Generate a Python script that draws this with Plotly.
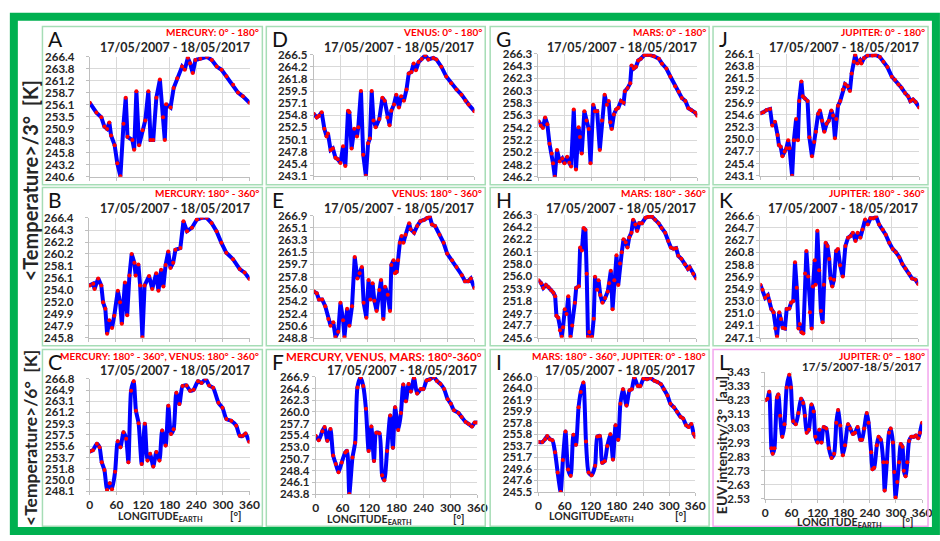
import plotly.graph_objects as go

W, H = 940, 541
FONT = "Lato"
DARK = "#262626"

# ---------------- data: zonal mean temperature vs. Earth longitude ----------------
lon_A = [0, 15, 26, 33, 39, 44, 48, 56, 62, 69, 76, 81, 85, 96, 100, 105, 111, 119, 125, 132, 137, 143, 150, 158, 165, 169, 172, 182, 189, 197, 208, 214, 221, 226, 232, 238, 249, 264, 275, 286, 297, 308, 323, 334, 345, 360]
temp_A = [256.5, 254.4, 253.4, 251.4, 250.9, 252.3, 249.5, 247.4, 243.5, 240.7, 252.0, 257.6, 249.2, 248.5, 246.4, 259.0, 247.4, 250.6, 252.7, 259.0, 248.5, 248.5, 257.6, 261.5, 253.4, 248.5, 256.2, 255.5, 259.7, 261.8, 264.3, 263.6, 266.2, 265.0, 262.9, 265.7, 266.0, 266.4, 265.7, 264.3, 263.6, 262.2, 260.4, 258.7, 257.9, 256.5]
ticks_A = ["266.4", "263.8", "261.2", "258.7", "256.1", "253.5", "250.9", "248.3", "245.8", "243.2", "240.6"]

lon_B = [2, 10, 13, 21, 28, 32, 37, 41, 46, 52, 57, 65, 70, 74, 81, 86, 91, 96, 102, 105, 111, 115, 120, 125, 135, 142, 151, 156, 162, 167, 172, 178, 183, 189, 194, 205, 212, 220, 231, 242, 253, 264, 275, 286, 297, 308, 323, 338, 349, 360]
temp_B = [254.8, 255.1, 254.2, 256.0, 254.8, 251.9, 250.8, 246.5, 248.8, 247.5, 249.6, 253.9, 251.9, 248.2, 255.3, 249.7, 256.5, 260.2, 258.7, 256.5, 258.4, 254.8, 245.9, 254.8, 256.4, 254.2, 256.9, 253.9, 257.5, 254.6, 258.3, 260.6, 257.8, 258.7, 260.9, 261.2, 265.8, 264.1, 264.7, 266.1, 266.4, 266.4, 265.5, 264.1, 262.1, 260.4, 259.3, 257.6, 257.0, 255.9]
ticks_B = ["266.4", "264.3", "262.2", "260.2", "258.1", "256.1", "254.0", "252.0", "249.9", "247.9", "245.8"]

lon_C = [0, 7, 16, 22, 27, 33, 39, 45, 50, 57, 63, 69, 76, 82, 87, 93, 99, 104, 110, 117, 124, 130, 136, 143, 150, 157, 163, 171, 177, 183, 189, 195, 202, 209, 218, 226, 234, 244, 252, 261, 269, 278, 290, 299, 308, 319, 330, 338, 345, 351, 359]
temp_C = [254.7, 254.9, 256.0, 255.4, 252.9, 251.6, 248.3, 249.4, 248.4, 251.3, 256.4, 255.4, 257.9, 256.8, 252.9, 264.8, 266.4, 261.5, 259.4, 252.6, 259.3, 253.2, 254.3, 252.2, 254.6, 253.2, 258.2, 255.7, 262.3, 257.6, 258.4, 264.5, 262.6, 265.6, 265.7, 264.8, 265.0, 266.4, 266.1, 266.8, 265.7, 265.3, 262.8, 262.0, 260.1, 259.8, 259.0, 257.3, 257.3, 257.7, 256.3]
ticks_C = ["266.8", "264.9", "263.1", "261.2", "259.3", "257.5", "255.6", "253.7", "251.8", "250.0", "248.1"]

lon_D = [0, 7, 12, 18, 24, 29, 32, 38, 43, 49, 54, 60, 66, 71, 77, 80, 85, 91, 97, 100, 106, 111, 117, 122, 126, 130, 134, 139, 147, 154, 159, 165, 170, 174, 180, 185, 191, 196, 202, 208, 213, 219, 224, 229, 235, 242, 250, 257, 268, 275, 286, 297, 308, 320, 331, 340, 347, 360]
temp_D = [255.1, 254.4, 254.7, 255.4, 252.2, 250.7, 251.3, 248.1, 248.4, 246.6, 246.3, 245.6, 248.8, 245.0, 255.7, 255.4, 248.4, 252.2, 250.7, 252.5, 259.5, 247.2, 243.1, 249.4, 250.3, 259.5, 253.8, 252.5, 254.1, 258.2, 257.6, 254.4, 252.9, 255.7, 256.9, 258.8, 256.3, 258.5, 257.6, 259.8, 262.9, 263.2, 264.8, 263.5, 265.1, 265.7, 266.4, 265.6, 265.9, 265.6, 264.2, 262.3, 261.0, 259.8, 258.8, 257.6, 256.9, 255.6]
ticks_D = ["266.5", "264.2", "261.8", "259.5", "257.1", "254.8", "252.5", "250.1", "247.8", "245.4", "243.1"]

lon_E = [0, 7, 12, 19, 26, 33, 38, 44, 49, 55, 60, 66, 69, 75, 80, 86, 92, 98, 103, 108, 112, 118, 123, 127, 132, 136, 141, 147, 151, 156, 160, 166, 171, 174, 179, 182, 186, 189, 193, 197, 201, 206, 214, 217, 225, 232, 239, 247, 254, 260, 265, 272, 282, 291, 299, 310, 320, 332, 339, 346, 352, 360]
temp_E = [255.7, 255.4, 254.5, 254.5, 253.5, 251.6, 250.6, 251.1, 248.9, 249.7, 254.0, 251.4, 248.9, 253.1, 250.6, 253.5, 260.8, 257.6, 258.4, 259.3, 254.0, 251.8, 257.4, 254.5, 256.9, 254.3, 252.8, 255.9, 257.4, 251.6, 256.4, 255.2, 252.8, 259.6, 260.3, 258.4, 258.6, 260.3, 262.9, 263.9, 262.9, 264.1, 265.8, 264.9, 264.4, 265.4, 266.1, 266.3, 266.6, 266.8, 265.6, 265.4, 264.1, 262.9, 261.3, 260.3, 259.3, 258.1, 257.2, 257.2, 257.6, 256.2]
ticks_E = ["266.9", "265.1", "263.3", "261.5", "259.7", "257.8", "256.0", "254.2", "252.4", "250.6", "248.8"]

lon_F = [0, 7, 15, 20, 26, 33, 39, 45, 51, 58, 66, 70, 75, 82, 88, 93, 100, 106, 112, 118, 124, 130, 135, 142, 148, 153, 159, 166, 172, 177, 184, 190, 195, 201, 207, 212, 219, 226, 234, 240, 247, 254, 263, 270, 278, 286, 294, 301, 308, 318, 325, 334, 341, 348, 354, 360]
temp_F = [255.3, 254.4, 256.2, 257.0, 254.3, 256.6, 251.4, 249.7, 248.1, 250.0, 252.0, 252.3, 243.8, 251.0, 253.9, 264.8, 266.8, 265.1, 260.6, 252.3, 257.1, 250.3, 255.9, 255.8, 247.5, 246.5, 252.3, 259.3, 252.9, 260.9, 256.4, 259.8, 265.4, 262.1, 265.5, 264.0, 266.7, 263.6, 264.5, 264.5, 266.2, 266.4, 266.9, 266.1, 265.5, 264.5, 262.5, 261.6, 260.3, 259.8, 259.0, 258.0, 257.6, 257.1, 257.9, 257.9]
ticks_F = ["266.9", "264.6", "262.3", "260.0", "257.7", "255.4", "253.0", "250.7", "248.4", "246.1", "243.8"]

lon_G = [0, 5, 10, 15, 20, 25, 30, 33, 37, 42, 48, 54, 59, 65, 70, 74, 80, 85, 91, 94, 98, 104, 109, 114, 118, 124, 128, 133, 139, 144, 150, 155, 159, 163, 166, 171, 176, 181, 187, 193, 196, 202, 208, 211, 216, 221, 226, 232, 240, 247, 254, 262, 273, 280, 290, 299, 310, 318, 325, 333, 340, 347, 355, 360]
temp_G = [255.3, 254.6, 254.2, 255.9, 254.8, 251.6, 250.0, 248.4, 246.2, 250.6, 248.7, 249.2, 248.4, 249.5, 248.5, 247.9, 257.2, 247.4, 254.3, 252.7, 250.0, 256.9, 255.4, 254.0, 248.4, 258.0, 256.9, 256.9, 250.6, 255.4, 259.6, 258.0, 258.6, 255.1, 254.0, 256.4, 257.2, 257.5, 258.6, 258.3, 260.2, 260.7, 261.5, 264.4, 263.9, 264.2, 265.2, 265.5, 266.1, 266.1, 266.1, 265.9, 265.5, 264.7, 263.9, 262.6, 261.0, 260.1, 259.1, 258.6, 257.4, 257.1, 256.7, 256.2]
ticks_G = ["266.3", "264.3", "262.3", "260.3", "258.3", "256.3", "254.2", "252.2", "250.2", "248.2", "246.2"]

lon_H = [0, 6, 11, 17, 23, 29, 34, 38, 41, 45, 49, 53, 56, 60, 64, 68, 73, 77, 83, 86, 92, 95, 99, 103, 107, 110, 113, 116, 122, 126, 129, 134, 137, 141, 146, 152, 158, 161, 165, 169, 173, 178, 182, 186, 190, 194, 199, 203, 207, 212, 216, 221, 225, 230, 236, 244, 251, 259, 266, 274, 281, 289, 296, 302, 308, 314, 319, 326, 334, 341, 345, 353, 360]
temp_H = [255.3, 254.8, 254.0, 254.5, 254.1, 253.6, 253.2, 252.6, 249.3, 249.0, 246.9, 245.8, 247.4, 250.4, 249.6, 252.6, 245.8, 247.7, 251.5, 254.0, 254.3, 260.8, 260.3, 264.1, 263.8, 256.4, 245.8, 246.6, 245.8, 248.8, 255.9, 253.7, 255.3, 252.8, 251.5, 252.3, 253.4, 254.8, 256.9, 250.4, 255.3, 259.5, 254.5, 258.1, 260.0, 262.2, 261.7, 260.8, 262.5, 263.3, 265.5, 264.7, 263.6, 264.9, 264.9, 265.8, 266.0, 266.0, 265.5, 264.9, 264.1, 263.3, 261.9, 260.8, 260.6, 260.7, 259.4, 258.9, 258.0, 257.2, 257.5, 256.4, 255.6]
ticks_H = ["266.3", "264.2", "262.2", "260.1", "258.0", "256.0", "253.9", "251.8", "249.7", "247.7", "245.6"]

lon_I = [0, 9, 15, 20, 26, 32, 38, 44, 51, 56, 62, 68, 74, 80, 86, 92, 97, 103, 109, 115, 122, 130, 135, 141, 146, 152, 158, 165, 171, 177, 183, 188, 194, 202, 209, 214, 220, 228, 234, 241, 249, 257, 266, 273, 281, 288, 296, 303, 311, 318, 326, 332, 339, 345, 351, 356, 360]
temp_I = [254.4, 254.4, 254.9, 255.5, 254.9, 254.7, 252.6, 249.0, 245.5, 251.2, 256.3, 249.5, 248.4, 255.7, 253.9, 260.6, 263.3, 265.0, 254.5, 249.0, 248.5, 250.2, 255.4, 255.5, 250.7, 251.0, 253.7, 255.8, 251.3, 257.4, 254.8, 261.2, 263.8, 260.9, 263.6, 263.8, 265.9, 264.4, 264.4, 265.7, 265.6, 265.8, 265.3, 265.1, 264.7, 263.8, 262.7, 261.2, 260.6, 259.8, 258.9, 258.6, 257.4, 257.1, 257.6, 255.9, 255.3]
ticks_I = ["266.0", "264.0", "261.9", "259.9", "257.8", "255.8", "253.7", "251.7", "249.6", "247.6", "245.5"]

lon_J = [0, 7, 14, 22, 27, 33, 39, 42, 46, 50, 55, 59, 63, 66, 72, 76, 81, 85, 88, 93, 96, 101, 107, 111, 117, 122, 126, 131, 135, 140, 145, 150, 155, 161, 165, 169, 172, 176, 181, 187, 192, 198, 203, 207, 212, 215, 220, 226, 229, 235, 243, 254, 261, 271, 279, 288, 298, 305, 313, 320, 328, 335, 340, 346, 352, 360]
temp_J = [254.9, 255.1, 255.5, 255.7, 252.6, 253.3, 250.8, 248.9, 248.6, 246.8, 247.7, 248.3, 249.8, 248.3, 243.1, 249.8, 253.8, 249.8, 257.2, 260.9, 258.1, 257.7, 257.2, 250.4, 246.8, 249.5, 251.4, 254.8, 255.4, 253.5, 251.4, 252.9, 253.5, 255.4, 254.5, 250.2, 253.8, 256.3, 257.2, 259.4, 260.4, 260.0, 259.1, 262.4, 264.6, 265.9, 264.3, 264.9, 264.3, 265.3, 265.8, 265.8, 265.9, 265.5, 264.6, 263.6, 261.8, 261.2, 260.3, 259.7, 258.7, 258.1, 257.2, 257.5, 257.0, 256.0]
ticks_J = ["266.1", "263.8", "261.5", "259.2", "256.9", "254.6", "252.3", "250.0", "247.7", "245.4", "243.1"]

lon_K = [0, 5, 11, 17, 21, 25, 30, 34, 38, 43, 47, 51, 56, 60, 66, 70, 75, 79, 83, 87, 90, 94, 98, 102, 105, 109, 113, 117, 120, 124, 126, 130, 134, 138, 142, 145, 149, 153, 157, 160, 164, 168, 173, 177, 182, 188, 194, 200, 206, 211, 217, 222, 228, 233, 239, 245, 251, 258, 264, 271, 279, 286, 294, 302, 309, 317, 324, 331, 339, 346, 354, 360]
temp_K = [255.6, 254.8, 253.5, 253.9, 253.0, 251.7, 251.2, 248.6, 247.3, 251.2, 250.1, 248.7, 248.6, 251.7, 251.8, 252.7, 253.0, 259.2, 255.1, 248.6, 249.3, 248.0, 247.8, 257.4, 261.0, 256.9, 251.2, 248.6, 255.3, 259.5, 255.6, 264.2, 257.9, 251.4, 249.6, 255.6, 262.3, 261.8, 259.7, 256.6, 255.3, 256.4, 261.0, 261.3, 258.7, 256.9, 261.8, 263.1, 263.4, 263.9, 262.6, 263.9, 263.1, 264.4, 266.0, 265.2, 266.2, 266.2, 266.5, 265.2, 264.4, 263.6, 262.3, 261.3, 260.8, 260.0, 258.9, 258.2, 257.4, 256.6, 256.4, 255.7]
ticks_K = ["266.6", "264.7", "262.7", "260.8", "258.8", "256.9", "254.9", "253.0", "251.0", "249.1", "247.1"]

# ---------------- data: EUV intensity vs. Earth longitude ----------------
lon_L = [0, 5, 9, 14, 17, 21, 27, 30, 34, 39, 44, 49, 55, 59, 64, 70, 76, 82, 87, 91, 95, 100, 106, 111, 115, 120, 124, 129, 134, 140, 146, 152, 158, 163, 167, 172, 178, 183, 190, 195, 201, 206, 212, 218, 222, 227, 233, 237, 243, 246, 250, 256, 260, 265, 271, 274, 279, 284, 288, 293, 296, 299, 303, 307, 311, 315, 318, 322, 326, 330, 335, 341, 346, 351, 355, 360]
euv_L = [3.23, 3.24, 3.29, 2.89, 2.85, 2.89, 3.25, 3.27, 3.12, 2.97, 3.06, 3.32, 3.41, 3.32, 3.08, 3.06, 3.14, 3.24, 3.21, 3.12, 3.00, 3.02, 3.20, 3.15, 2.97, 2.93, 3.02, 2.93, 3.04, 3.03, 2.89, 2.82, 2.85, 3.07, 3.16, 3.05, 2.84, 2.91, 3.06, 3.03, 2.99, 3.00, 3.04, 2.95, 2.95, 3.03, 3.14, 3.07, 2.86, 2.74, 2.75, 2.91, 2.97, 2.95, 2.79, 2.59, 2.79, 3.00, 3.03, 2.93, 2.72, 2.54, 2.65, 2.79, 2.92, 2.90, 2.73, 2.69, 2.79, 2.94, 2.97, 2.97, 2.98, 2.96, 3.00, 3.07]
ticks_L = ["3.43", "3.33", "3.23", "3.13", "3.03", "2.93", "2.83", "2.73", "2.63", "2.53"]

lon_tickvals = [0, 60, 120, 180, 240, 300, 360]
lon_ticktext = ["0", "60", "120", "180", "240", "300", "360"]

# panel headers
letters = ["A", "B", "C", "D", "E", "F", "G", "H", "I", "J", "K", "L"]
region_titles = [
    "MERCURY: 0° - 180°", "MERCURY: 180° - 360°", "MERCURY: 180° - 360°, VENUS: 180° - 360°",
    "VENUS: 0° - 180°", "VENUS: 180° - 360°", "MERCURY, VENUS, MARS: 180°-360°",
    "MARS: 0° - 180°", "MARS: 180° - 360°", "MARS: 180° - 360°, JUPITER: 0° - 180°",
    "JUPITER: 0° - 180°", "JUPITER: 180° - 360°", "JUPITER: 0° – 180°",
]
period = "17/05/2007 - 18/05/2017"
period_short = "17/5/2007-18/5/2017"

series = [
    (lon_A, temp_A, ticks_A), (lon_B, temp_B, ticks_B), (lon_C, temp_C, ticks_C),
    (lon_D, temp_D, ticks_D), (lon_E, temp_E, ticks_E), (lon_F, temp_F, ticks_F),
    (lon_G, temp_G, ticks_G), (lon_H, temp_H, ticks_H), (lon_I, temp_I, ticks_I),
    (lon_J, temp_J, ticks_J), (lon_K, temp_K, ticks_K), (lon_L, euv_L, ticks_L),
]

# ---------------- geometry (pixels) ----------------
col_box = [(40, 263), (267, 489), (494, 716), (720, 938)]
row_box = [(20, 182), (185, 347), (351, 532)]
# plot areas: (x0, x1, y0, y1)
plot_px = {
    "A": (88, 250, 51, 174), "D": (315, 478, 49, 173), "G": (543, 704, 48, 174), "J": (768, 929, 48, 173),
    "B": (87, 250, 216, 339), "E": (315, 478, 214, 339), "H": (543, 703, 213, 339), "K": (768, 928, 214, 339),
    "C": (88, 250, 381, 496), "F": (317, 481, 379, 499), "I": (543, 702, 379, 497), "L": (773, 932, 374, 504),
}
# centres of the longitude axis title and of its unit, bottom row
lon_title_px = {"C": (160, 523, 236), "F": (372, 526, 462), "I": (597, 523, 687), "L": (848, 529, 917)}


def px(x):
    return x / W


def py(y):
    return 1 - y / H


fig = go.Figure()
layout_axes = {}
annotations = []
shapes = []


def text(t, x, y, size, color=DARK, xanchor="left", yanchor="middle", angle=0, family=FONT):
    annotations.append(dict(
        text=t, x=px(x), y=py(y), xref="paper", yref="paper", showarrow=False,
        xanchor=xanchor, yanchor=yanchor, textangle=angle,
        font=dict(family=family, size=size, color=color)))


for i, letter in enumerate(letters):
    col, row = divmod(i, 3)
    lon, val, ticks = series[i]
    x0, x1, y0, y1 = plot_px[letter]
    n = "" if i == 0 else str(i + 1)
    bottom = row == 2

    fig.add_trace(go.Scatter(
        x=lon, y=val, xaxis="x" + n, yaxis="y" + n, mode="lines+markers",
        line=dict(color="#0000FF", width=4, shape="spline" if bottom else "linear", smoothing=0.6),
        marker=dict(color="#FF0000", size=4), showlegend=False, hoverinfo="skip"))

    tickvals = [float(t) for t in ticks]
    layout_axes["xaxis" + n] = dict(
        domain=[px(x0), px(x1)], anchor="y" + n, range=[0, 360],
        tickvals=lon_tickvals, ticktext=lon_ticktext, showticklabels=bottom,
        ticks="outside", ticklen=3, tickcolor="#BFBFBF",
        showgrid=True, gridcolor="#D9D9D9", gridwidth=1,
        showline=True, linecolor="#BFBFBF", linewidth=1, zeroline=False,
        tickfont=dict(family=FONT, size=12, color=DARK, weight="bold"))
    layout_axes["yaxis" + n] = dict(
        domain=[py(y1), py(y0)], anchor="x" + n,
        range=[min(tickvals), max(tickvals)],
        tickvals=tickvals, ticktext=ticks,
        ticks="outside", ticklen=3, tickcolor="#BFBFBF",
        ticklabelstandoff=9 if col == 0 or letter == "L" else 0,
        showgrid=True, gridcolor="#D9D9D9", gridwidth=1,
        showline=True, linecolor="#BFBFBF", linewidth=1, zeroline=False,
        tickfont=dict(family=FONT, size=11.5, color=DARK, weight="bold"))

    # panel frame
    bx0, bx1 = col_box[col]
    by0, by1 = row_box[row]
    shapes.append(dict(type="rect", xref="paper", yref="paper",
                       x0=px(bx0), x1=px(bx1), y0=py(by1), y1=py(by0),
                       line=dict(color="#F3A6EE" if letter == "L" else "#A6DDB6", width=1.5)))

    # headers
    text(letter, bx0 + 4, by0 + 12, 21, color="#111111")
    title_size = 11.5 if letter == "F" else 10
    text("<b>" + region_titles[i] + "</b>", bx1 - 1, by0 + (7 if bottom else 6), title_size, color="#FF0000",
         xanchor="right")
    if letter == "L":
        text("<b>" + period_short + "</b>", x1 + 1, by0 + 17, 11.5, xanchor="right")
    else:
        text("<b>" + period + "</b>", x1 + 2, by0 + 21, 12.5, xanchor="right")

    if bottom:
        lx, ly, ux = lon_title_px[letter]
        text("<b>LONGITUDE<sub>EARTH</sub></b>", lx, ly, 10.5, xanchor="center")
        text("<b>[°]</b>", ux, ly - 2, 11, xanchor="center")

# side titles
text("<b>&lt;Temperature&gt;/3°  [K]</b>", 27, 178, 20, angle=-90, xanchor="center")
text("<b>&lt;Temperature&gt;/6°  [K]</b>", 28, 442, 17.5, angle=-90, xanchor="center")
text("<b>EUV intensity/3°  [a.u]</b>", 728, 449, 14, angle=-90, xanchor="center")

# outer frame
shapes.append(dict(type="rect", xref="paper", yref="paper",
                   x0=px(11), x1=px(946), y0=py(537), y1=py(10),
                   line=dict(color="#00B050", width=8)))

fig.update_layout(
    width=W, height=H, margin=dict(l=0, r=0, t=0, b=0),
    paper_bgcolor="white", plot_bgcolor="white",
    font=dict(family=FONT, color=DARK),
    annotations=annotations, shapes=shapes, showlegend=False,
    **layout_axes)

fig.write_html("out.html")
